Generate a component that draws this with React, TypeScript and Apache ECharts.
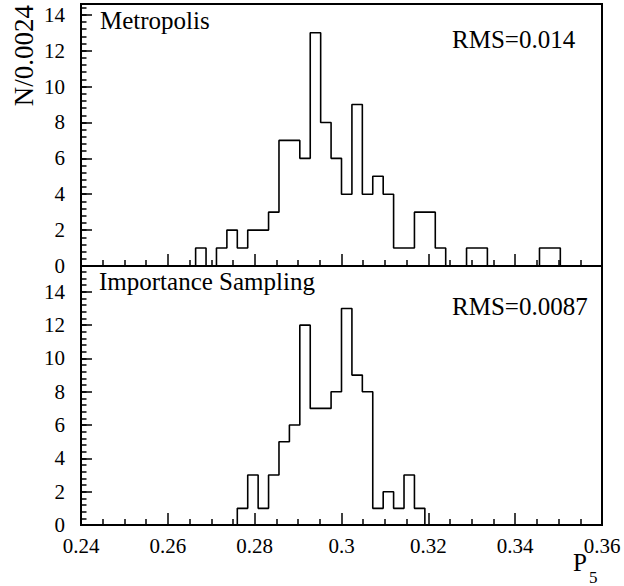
import React, { useEffect, useRef } from "react";
import * as echarts from "echarts";

const X_MIN = 0.24;
const X_MAX = 0.36;
const BIN_WIDTH = 0.0024;
const X_MAJOR = 0.02;

const xTickLabels = ["0.24", "0.26", "0.28", "0.3", "0.32", "0.34", "0.36"];
const yTickLabels = ["0", "2", "4", "6", "8", "10", "12", "14"];

const metropolisCounts = [
  0, 0, 0, 0, 0, 0, 0, 0, 0, 0, 0,
  1, 0, 1, 2, 1, 2, 2, 3, 7, 7,
  6, 13, 8, 6, 4, 9, 4, 5, 4, 1,
  1, 3, 3, 1, 0, 0, 1, 1, 0, 0,
  0, 0, 0, 1, 1, 0, 0, 0, 0,
];

const importanceCounts = [
  0, 0, 0, 0, 0, 0, 0, 0, 0, 0, 0, 0, 0, 0, 0,
  1, 3, 1, 3, 5, 6, 12, 7, 7, 8, 13, 9, 8, 1, 2, 1, 3, 1,
  0, 0, 0, 0, 0, 0, 0, 0, 0, 0, 0, 0, 0, 0, 0, 0, 0,
];

const panelTitles = ["Metropolis", "Importance Sampling"];
const rmsLabels = ["RMS=0.014", "RMS=0.0087"];
const yAxisTitle = "N/0.0024";
const xAxisTitleMain = "P";
const xAxisTitleSub = "5";

const FONT = "'Liberation Serif', 'Times New Roman', Times, serif";

function stepData(counts: number[]) {
  const pts = counts.map((c, i) => [Number((X_MIN + i * BIN_WIDTH).toFixed(5)), c]);
  pts.push([Number((X_MIN + counts.length * BIN_WIDTH).toFixed(5)), counts[counts.length - 1]]);
  return pts;
}

function xLabel(v: number) {
  const idx = Math.round((v - X_MIN) / X_MAJOR);
  if (Math.abs(v - (X_MIN + idx * X_MAJOR)) > 1e-6) return "";
  return xTickLabels[idx] ?? "";
}

function yLabel(v: number) {
  const idx = Math.round(v / 2);
  if (Math.abs(v - idx * 2) > 1e-6) return "";
  return yTickLabels[idx] ?? "";
}

export default function App() {
  const ref = useRef<HTMLDivElement>(null);

  useEffect(() => {
    if (!ref.current) return;
    const chart = echarts.init(ref.current, null, { renderer: "svg" });

    const black = "#000";
    const makeX = (gridIndex: number, showLabels: boolean) => ({
      type: "value",
      gridIndex,
      min: X_MIN,
      max: X_MAX,
      interval: X_MAJOR,
      axisLine: { show: true, onZero: false, lineStyle: { color: black, width: 2 } },
      axisTick: { show: true, inside: true, length: 12, lineStyle: { color: black, width: 1.5 } },
      minorTick: { show: true, splitNumber: 4, length: 6, lineStyle: { color: black, width: 1.5 } },
      splitLine: { show: false },
      minorSplitLine: { show: false },
      axisLabel: {
        show: showLabels,
        color: black,
        fontSize: 21,
        fontFamily: FONT,
        margin: 10,
        formatter: xLabel,
      },
    });

    const makeY = (gridIndex: number, max: number) => ({
      type: "value",
      gridIndex,
      min: 0,
      max,
      interval: 2,
      axisLine: { show: true, onZero: false, lineStyle: { color: black, width: 2 } },
      axisTick: { show: true, inside: true, length: 11, lineStyle: { color: black, width: 1.5 } },
      splitLine: { show: false },
      axisLabel: {
        show: true,
        color: black,
        fontSize: 21,
        fontFamily: FONT,
        margin: 16,
        showMaxLabel: false,
        formatter: yLabel,
      },
    });

    const makeYMinor = (gridIndex: number, max: number) => ({
      type: "value",
      gridIndex,
      position: "left",
      offset: 0,
      min: 0,
      max,
      interval: 0.4,
      axisLine: { show: false },
      axisTick: { show: true, inside: true, length: 5.5, lineStyle: { color: black, width: 1.5 } },
      splitLine: { show: false },
      axisLabel: { show: false },
    });

    const TOP_MAX = 14.6;
    const BOT_MAX = 15.55;

    const lineStyle = { color: black, width: 1.6 };

    chart.setOption({
      animation: false,
      textStyle: { fontFamily: FONT },
      grid: [
        { left: 81, right: 22, top: 4, height: 262, show: true, borderColor: black, borderWidth: 2, backgroundColor: "transparent" },
        { left: 81, right: 22, top: 266, height: 259, show: true, borderColor: black, borderWidth: 2, backgroundColor: "transparent" },
      ],
      xAxis: [makeX(0, false), makeX(1, true)],
      yAxis: [makeY(0, TOP_MAX), makeY(1, BOT_MAX), makeYMinor(0, TOP_MAX), makeYMinor(1, BOT_MAX)],
      series: [
        {
          type: "line",
          xAxisIndex: 0,
          yAxisIndex: 0,
          step: "end",
          symbol: "none",
          silent: true,
          lineStyle,
          data: stepData(metropolisCounts),
        },
        {
          type: "line",
          xAxisIndex: 1,
          yAxisIndex: 1,
          step: "end",
          symbol: "none",
          silent: true,
          lineStyle,
          data: stepData(importanceCounts),
        },
      ],
      graphic: [
        {
          type: "text",
          left: 100,
          top: 8,
          style: { text: panelTitles[0], fontSize: 25, fontFamily: FONT, fill: black },
        },
        {
          type: "text",
          left: 452,
          top: 27,
          style: { text: rmsLabels[0], fontSize: 25, fontFamily: FONT, fill: black },
        },
        {
          type: "text",
          left: 99,
          top: 269,
          style: { text: panelTitles[1], fontSize: 25, fontFamily: FONT, fill: black },
        },
        {
          type: "text",
          left: 452,
          top: 294,
          style: { text: rmsLabels[1], fontSize: 25, fontFamily: FONT, fill: black },
        },
        {
          type: "text",
          x: 23.5,
          y: 5,
          rotation: Math.PI / 2,
          style: {
            text: yAxisTitle,
            fontSize: 27,
            fontFamily: FONT,
            fill: black,
            align: "right",
            verticalAlign: "middle",
          },
        },
        {
          type: "text",
          x: 573,
          y: 562,
          style: { text: xAxisTitleMain, fontSize: 25, fontFamily: FONT, fill: black, verticalAlign: "middle" },
        },
        {
          type: "text",
          x: 589,
          y: 577,
          style: { text: xAxisTitleSub, fontSize: 17, fontFamily: FONT, fill: black, verticalAlign: "middle" },
        },
      ],
    });

    return () => {
      chart.dispose();
    };
  }, []);

  return <div ref={ref} style={{ width: 624, height: 586, position: "absolute", left: 0, top: 0 }} />;
}
